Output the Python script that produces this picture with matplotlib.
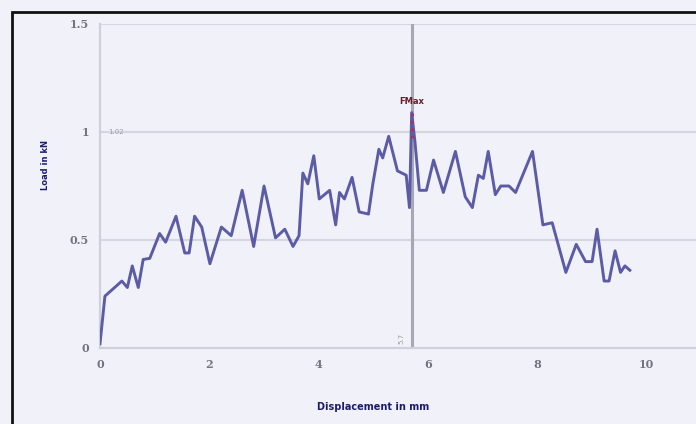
import matplotlib.pyplot as plt
from matplotlib.patches import Rectangle

# load-displacement curve
displacement = [0.0, 0.09, 0.40, 0.50, 0.59, 0.70, 0.79, 0.91, 1.09, 1.20,
                1.39, 1.55, 1.63, 1.73, 1.86, 2.01, 2.22, 2.40, 2.60, 2.81,
                3.00, 3.21, 3.38, 3.53, 3.64, 3.71, 3.80, 3.91, 4.01, 4.20,
                4.31, 4.38, 4.47, 4.61, 4.74, 4.91, 4.99, 5.10, 5.17, 5.28,
                5.44, 5.60, 5.66, 5.70, 5.76, 5.84, 5.97, 6.10, 6.28, 6.50,
                6.68, 6.81, 6.92, 7.01, 7.10, 7.23, 7.33, 7.48, 7.60, 7.91,
                8.10, 8.27, 8.52, 8.71, 8.88, 9.00, 9.09, 9.22, 9.31, 9.42,
                9.52, 9.60, 9.69]
load = [0.02, 0.24, 0.31, 0.28, 0.38, 0.28, 0.41, 0.415, 0.53, 0.49,
        0.61, 0.44, 0.44, 0.61, 0.56, 0.39, 0.56, 0.52, 0.73, 0.47,
        0.75, 0.51, 0.55, 0.47, 0.52, 0.81, 0.76, 0.89, 0.69, 0.73,
        0.57, 0.72, 0.69, 0.79, 0.63, 0.62, 0.76, 0.92, 0.88, 0.98,
        0.82, 0.80, 0.65, 1.09, 0.955, 0.73, 0.73, 0.87, 0.72, 0.91,
        0.70, 0.65, 0.80, 0.785, 0.91, 0.71, 0.75, 0.75, 0.72, 0.91,
        0.57, 0.58, 0.35, 0.48, 0.40, 0.40, 0.55, 0.31, 0.31, 0.45,
        0.35, 0.38, 0.36]

x_ticks = [0, 2, 4, 6, 8, 10]
y_ticks = [0, 0.5, 1, 1.5]
fmax_x = 5.7
fmax_y = 1.09

bg = '#f1f1fa'
line_color = '#5c5ca6'
label_color = '#1c1c6e'

fig = plt.figure(figsize=(6.96, 4.24), dpi=100, facecolor=bg)
ax = fig.add_axes([100 / 696, 1 - 348 / 424, 1 - 100 / 696, (348 - 24) / 424])
ax.set_facecolor(bg)

ax.set_xlim(0, 10.9)
ax.set_ylim(0, 1.5)

for y in y_ticks[1:]:
    ax.axhline(y, color='#d6d6e0', lw=1.6, zorder=1)
ax.axvline(fmax_x, color='#a8a8b2', lw=2.2, zorder=2)

ax.plot(displacement, load, color=line_color, lw=2.1, zorder=3)
# red dotted marker down from the peak
ax.plot([fmax_x, fmax_x], [fmax_y, 0.96], color='#b0305a', lw=2, ls=':', zorder=4)

ax.text(fmax_x, fmax_y + 0.03, 'FMax', color='#6a1a2a', fontsize=6,
        fontweight='bold', ha='center', va='bottom')
ax.text(0.15, 1.0, '1.02', color='#9a9aa4', fontsize=5, va='center')
ax.text(fmax_x - 0.18, 0.02, '5.7', color='#9a9aa4', fontsize=5,
        rotation=90, va='bottom', ha='center')

for side in ['top', 'right']:
    ax.spines[side].set_visible(False)
ax.spines['left'].set_color('#d0d0da')
ax.spines['left'].set_linewidth(1.6)
ax.spines['bottom'].set_color('#d0d0da')
ax.spines['bottom'].set_linewidth(1.6)

ax.set_xticks(x_ticks)
ax.set_yticks(y_ticks)
ax.set_xticklabels([str(t) for t in x_ticks])
ax.set_yticklabels(['0', '0.5', '1', '1.5'])
ax.tick_params(length=0, labelsize=8, labelcolor='#74747e', pad=8)
for lbl in ax.get_xticklabels() + ax.get_yticklabels():
    lbl.set_fontweight('bold')
    lbl.set_family('DejaVu Serif')

fig.text(373 / 696, 1 - 407 / 424, 'Displacement in mm', color=label_color,
         fontsize=7, fontweight='bold', ha='center', va='center')
fig.text(45 / 696, 1 - 165 / 424, 'Load in kN', color=label_color,
         fontsize=6, fontweight='bold', rotation=90, ha='center', va='center')

# black frame of the screenshot
fig.patches.append(Rectangle((12 / 696, -0.1), 1.2, 1.1 - 12 / 424,
                             transform=fig.transFigure, fill=False,
                             edgecolor='#111111', lw=2))

fig.savefig('out.png', dpi=100, facecolor=bg)
